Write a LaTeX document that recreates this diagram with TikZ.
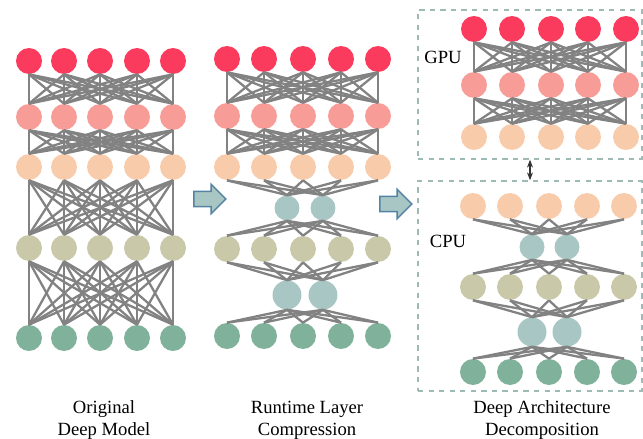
\documentclass[tikz,border=0pt]{standalone}
\usepackage{fontspec}
\setmainfont{Liberation Serif}
\usetikzlibrary{shapes.arrows, arrows.meta}

\definecolor{layerred}{HTML}{FB3B5E}
\definecolor{layerpink}{HTML}{F89C98}
\definecolor{layerpeach}{HTML}{F8CCAA}
\definecolor{layerolive}{HTML}{C9C9AA}
\definecolor{layergreen}{HTML}{7FB19B}
\definecolor{layerblue}{HTML}{A8C6C3}
\definecolor{linkgray}{HTML}{828282}
\definecolor{boxline}{HTML}{9DBAB5}
\definecolor{arrowedge}{HTML}{5583A3}

\begin{document}
\begin{tikzpicture}[
    x=0.02cm, y=-0.02cm,
    unit/.style={circle, inner sep=0pt, minimum size=0.52cm, fill=#1},
    small/.style={circle, inner sep=0pt, minimum size=0.5cm, fill=layerblue},
    big/.style={circle, inner sep=0pt, minimum size=0.58cm, fill=layerblue},
    link/.style={draw=linkgray, line width=1.3pt},
    stage/.style={single arrow, draw=arrowedge, fill=layerblue, thick, inner sep=0.14cm, single arrow head extend=0.14cm, minimum height=0.64cm},
    device/.style={rectangle, draw=boxline, dashed, thick, minimum width=4.48cm},
    swap/.style={{Stealth[length=4.5pt]}-{Stealth[length=4.5pt]}, draw=black!80, line width=0.9pt},
    caption/.style={font=\fontsize{10.6}{12.4}\selectfont, align=center},
    tag/.style={font=\fontsize{10.6}{12.4}\selectfont}
]
\useasboundingbox (0,0) rectangle (643,439);

% Original deep model
\foreach \y/\c [count=\l] in {61/layerred, 117/layerpink, 167/layerpeach, 248/layerolive, 338/layergreen}
  \foreach \x [count=\i] in {29,64,100,137,173}
    \node[unit=\c] (a\l-\i) at (\x,\y) {};
\foreach \l/\m in {1/2, 2/3, 3/4, 4/5}
  \foreach \i in {1,...,5}
    \foreach \j in {1,...,5}
      \draw[link] (a\l-\i.south) -- (a\m-\j.north);

% Runtime layer compression
\foreach \y/\c [count=\l] in {59/layerred, 116/layerpink, 167/layerpeach}
  \foreach \x [count=\i] in {227,264,303,341,378}
    \node[unit=\c] (b\l-\i) at (\x,\y) {};
\foreach \x [count=\i] in {227,264,303,341,378} {
  \node[unit=layerolive] (b5-\i) at (\x,249) {};
  \node[unit=layergreen] (b7-\i) at (\x,336) {};
}
\node[small] (b4-1) at (287,208) {};
\node[small] (b4-2) at (323,208) {};
\node[big] (b6-1) at (287,295) {};
\node[big] (b6-2) at (323,295) {};
\foreach \l/\m in {1/2, 2/3}
  \foreach \i in {1,...,5}
    \foreach \j in {1,...,5}
      \draw[link] (b\l-\i.south) -- (b\m-\j.north);
\foreach \i in {1,...,5}
  \foreach \j in {1,2} {
    \draw[link] (b3-\i.south) -- (b4-\j.north);
    \draw[link] (b4-\j.south) -- (b5-\i.north);
    \draw[link] (b5-\i.south) -- (b6-\j.north);
    \draw[link] (b6-\j.south) -- (b7-\i.north);
  }

% Stage arrows
\node[stage] (step1) at (206,199) {};
\node[stage] (step2) at (392,204) {};

% GPU part
\node[device, minimum height=2.98cm] (gpu) at (530,84.5) {};
\node[tag] (gputag) at (443,57) {GPU};
\foreach \y/\c [count=\l] in {29/layerred, 85/layerpink, 137/layerpeach}
  \foreach \x [count=\i] in {474,512,551,588,626}
    \node[unit=\c] (g\l-\i) at (\x,\y) {};
\foreach \l/\m in {1/2, 2/3}
  \foreach \i in {1,...,5}
    \foreach \j in {1,...,5}
      \draw[link] (g\l-\i.south) -- (g\m-\j.north);

% CPU part
\node[device, minimum height=4.2cm] (cpu) at (530,286) {};
\node[tag] (cputag) at (448,241) {CPU};
\foreach \x [count=\i] in {473,510,549,587,624} {
  \node[unit=layerpeach] (c1-\i) at (\x,206) {};
  \node[unit=layerolive] (c3-\i) at (\x,287) {};
  \node[unit=layergreen] (c5-\i) at (\x,372) {};
}
\node[small] (c2-1) at (532,247) {};
\node[small] (c2-2) at (567,247) {};
\node[big] (c4-1) at (532,332) {};
\node[big] (c4-2) at (567,332) {};
\foreach \i in {1,...,5}
  \foreach \j in {1,2} {
    \draw[link] (c1-\i.south) -- (c2-\j.north);
    \draw[link] (c2-\j.south) -- (c3-\i.north);
    \draw[link] (c3-\i.south) -- (c4-\j.north);
    \draw[link] (c4-\j.south) -- (c5-\i.north);
  }

\draw[swap] (gpu.south) -- (cpu.north);

% Captions
\node[caption] (cap1) at (104,420) {Original\\Deep Model};
\node[caption] (cap2) at (307,420) {Runtime Layer\\Compression};
\node[caption] (cap3) at (542,420) {Deep Architecture\\Decomposition};

\end{tikzpicture}
\end{document}
